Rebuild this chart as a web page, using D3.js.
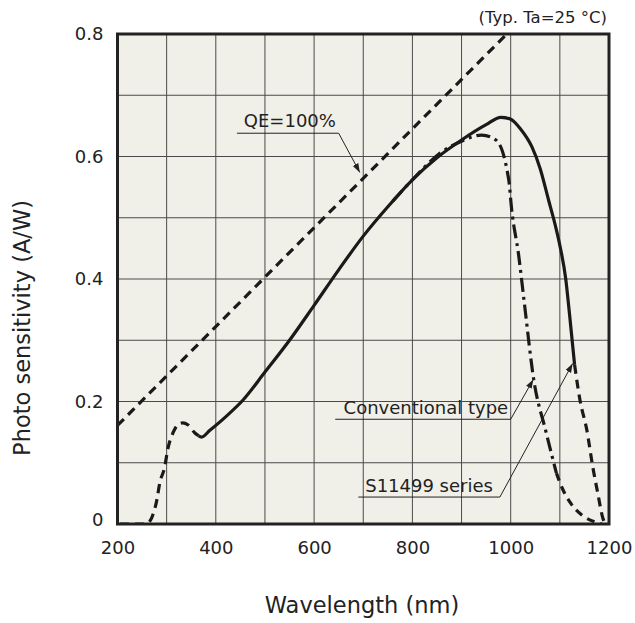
<!DOCTYPE html>
<html><head><meta charset="utf-8">
<script src="https://cdn.jsdelivr.net/npm/d3@7"></script>
<style>
html,body{margin:0;padding:0;background:#fff;}
text{font-family:"DejaVu Sans",Verdana,sans-serif;fill:#222;}
</style></head>
<body>
<svg id="c" width="635" height="623"></svg>
<script>
// ---- data ----
const xTicks = [200, 400, 600, 800, 1000, 1200];
const yTicks = [0, 0.2, 0.4, 0.6, 0.8];
const yTickLabels = ["0", "0.2", "0.4", "0.6", "0.8"];

const qeWl   = [200, 992];
const qeVals = [0.161, 0.8];

const s11499UvWl   = [205, 250, 262, 270, 280, 286, 296, 302, 313, 323, 333, 343, 357, 365];
const s11499UvVals = [0, 0, 0.002, 0.011, 0.039, 0.067, 0.093, 0.121, 0.149, 0.162, 0.165, 0.162, 0.149, 0.144];

const s11499Wl   = [365, 371, 388, 420, 455, 500, 550, 600, 650, 700, 750, 800, 850, 900, 950, 980, 1000, 1020, 1043, 1060, 1077, 1090, 1100, 1112, 1120, 1130];
const s11499Vals = [0.144, 0.142, 0.153, 0.175, 0.202, 0.248, 0.3, 0.357, 0.415, 0.47, 0.518, 0.562, 0.598, 0.627, 0.652, 0.664, 0.661, 0.645, 0.616, 0.58, 0.529, 0.49, 0.455, 0.40, 0.34, 0.26];

const s11499IrWl   = [1130, 1141, 1155, 1167, 1177, 1187, 1192];
const s11499IrVals = [0.26, 0.202, 0.153, 0.093, 0.051, 0.011, 0];

const convWl   = [760, 800, 854, 900, 941, 970, 996, 1002, 1016, 1027, 1047, 1071, 1093];
const convVals = [0.527, 0.562, 0.604, 0.625, 0.635, 0.627, 0.562, 0.513, 0.44, 0.366, 0.235, 0.153, 0.083];

const convTailWl   = [1093, 1104, 1122, 1144, 1173, 1185];
const convTailVals = [0.083, 0.06, 0.034, 0.015, 0.003, 0];

// ---- layout ----
const svg = d3.select("#c");
const L = 117.5, R = 609, T = 34, B = 524;
const x = d3.scaleLinear().domain([200, 1200]).range([L, R]);
const y = d3.scaleLinear().domain([0, 0.8]).range([B, T]);

// background
svg.append("rect").attr("x", L).attr("y", T).attr("width", R - L).attr("height", B - T)
  .attr("fill", "#f1f0e8");

// grid
const g = svg.append("g");
g.selectAll("line.v").data(d3.range(300, 1200, 100)).join("line")
  .attr("x1", d => x(d)).attr("x2", d => x(d)).attr("y1", T).attr("y2", B)
  .attr("stroke", "#4a4a4a").attr("stroke-width", 1);
g.selectAll("line.h").data(d3.range(1, 8).map(i => i / 10)).join("line")
  .attr("y1", d => y(d)).attr("y2", d => y(d)).attr("x1", L).attr("x2", R)
  .attr("stroke", "#4a4a4a").attr("stroke-width", 1);

// axes (labels only)
const xAxis = d3.axisBottom(x).tickValues(xTicks).tickFormat(d3.format("d")).tickSize(0).tickPadding(17);
const xa = svg.append("g").attr("transform", `translate(0,${B})`).call(xAxis);
xa.select(".domain").remove();
xa.selectAll("text").style("font-size", "18px").style("font-family", "DejaVu Sans").attr("fill", "#222");

const yAxis = d3.axisLeft(y).tickValues(yTicks).tickFormat((d, i) => yTickLabels[i]).tickSize(0).tickPadding(14);
const ya = svg.append("g").attr("transform", `translate(${L},0)`).call(yAxis);
ya.select(".domain").remove();
ya.selectAll("text").style("font-size", "18px").style("font-family", "DejaVu Sans").attr("fill", "#222");
ya.selectAll(".tick").filter(d => d === 0).select("text").attr("dy", "0.1em");

// curves
const line = d3.line().x(d => x(d[0])).y(d => y(d[1])).curve(d3.curveMonotoneX);
const zip = (a, b) => a.map((v, i) => [v, b[i]]);
const clip = svg.append("clipPath").attr("id", "pc").append("rect")
  .attr("x", L).attr("y", T - 2).attr("width", R - L).attr("height", B - T + 2);
const cg = svg.append("g").attr("clip-path", "url(#pc)");

function draw(wl, vals, dash) {
  cg.append("path").attr("d", line(zip(wl, vals)))
    .attr("fill", "none").attr("stroke", "#1a1a1a").attr("stroke-width", 3.2)
    .attr("stroke-dasharray", dash);
}
draw(qeWl, qeVals, "9,6");
draw(s11499UvWl, s11499UvVals, "9,6");
draw(s11499Wl, s11499Vals, null);
draw(s11499IrWl, s11499IrVals, "9,6");
draw(convWl, convVals, "14,5,3,5");
draw(convTailWl, convTailVals, "8,6");

// frame
svg.append("rect").attr("x", L).attr("y", T).attr("width", R - L).attr("height", B - T)
  .attr("fill", "none").attr("stroke", "#222").attr("stroke-width", 3);

// annotations
svg.append("defs").append("marker").attr("id", "ar").attr("viewBox", "0 0 10 10")
  .attr("refX", 10).attr("refY", 5).attr("markerWidth", 9).attr("markerHeight", 9)
  .attr("markerUnits", "userSpaceOnUse").attr("orient", "auto")
  .append("path").attr("d", "M0,1.5 L10,5 L0,8.5 Z").attr("fill", "#222");

const annos = [
  {text: "QE=100%", tx: 457, ty: 0.648, u0: 443, u1: 650, uy: 0.638, ax: 693, ay: 0.574},
  {text: "Conventional type", tx: 660, ty: 0.18, u0: 643, u1: 1000, uy: 0.171, ax: 1046, ay: 0.236},
  {text: "S11499 series", tx: 704, ty: 0.052, u0: 690, u1: 978, uy: 0.044, ax: 1126, ay: 0.262}
];
annos.forEach(a => {
  svg.append("path")
    .attr("d", `M${x(a.u0)},${y(a.uy)} L${x(a.u1)},${y(a.uy)} L${x(a.ax)},${y(a.ay)}`)
    .attr("fill", "none").attr("stroke", "#222").attr("stroke-width", 1).attr("marker-end", "url(#ar)");
  svg.append("text").attr("x", x(a.tx)).attr("y", y(a.ty)).text(a.text).style("font-size", "18px");
});

svg.append("text").attr("x", 607).attr("y", 23).attr("text-anchor", "end")
  .style("font-size", "16.5px").text("(Typ. Ta=25 °C)");
svg.append("text").attr("x", 362).attr("y", 613).attr("text-anchor", "middle")
  .style("font-size", "22.5px").text("Wavelength (nm)");
svg.append("text").attr("transform", `translate(30,328) rotate(-90)`)
  .attr("text-anchor", "middle").style("font-size", "22.5px").text("Photo sensitivity (A/W)");
</script>
</body></html>
